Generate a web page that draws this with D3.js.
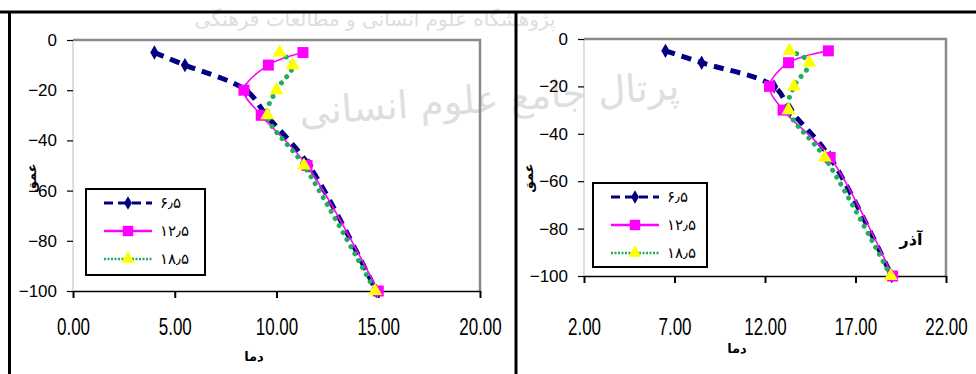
<!DOCTYPE html>
<html>
<head>
<meta charset="utf-8">
<script src="https://cdn.jsdelivr.net/npm/d3@7"></script>
<style>
body { margin: 0; background: #fff; }
</style>
</head>
<body>
<div id="playground"></div>
<script>
// Data (soil temperature profiles, depth in cm)
var depths = [-5, -10, -20, -30, -50, -100]
var seriesNames = ['۶٫۵', '۱۲٫۵', '۱۸٫۵']
var yTicks = [0, -20, -40, -60, -80, -100]
var xLabel = 'دما'
var yLabel = 'عمق'

// Left panel
var leftXTicks = [0, 5, 10, 15, 20]
var left65 = [4.0, 5.5, 8.5, 9.5, 11.6, 14.9]
var left125 = [11.3, 9.6, 8.4, 9.25, 11.5, 15.0]
var left185 = [10.15, 10.8, 10.0, 9.55, 11.35, 14.85]

// Right panel
var rightXTicks = [2, 7, 12, 17, 22]
var right65 = [6.5, 8.5, 12.5, 13.4, 15.6, 19.0]
var right125 = [15.5, 13.3, 12.25, 13.0, 15.6, 19.05]
var right185 = [13.35, 14.45, 13.6, 13.3, 15.3, 18.95]
var rightMonth = 'آذر'

var settings = {}

// General
settings.width = 976
settings.height = 374
settings.font_family = 'Liberation Sans, Arial, sans-serif'
settings.tick_font_size = 17
settings.legend_font_size = 15

// Series styles
settings.series = [
	{color: '#000080', width: 5, dash: '10 7', cap: 'butt', symbol: d3.symbolDiamond, size: 60, fill: '#000080',
		legendWidth: 3, legendDash: '9 5'}
,	{color: '#FF00FF', width: 1.6, dash: null, cap: 'butt', symbol: d3.symbolSquare, size: 121, fill: '#FF00FF',
		legendWidth: 2.5, legendDash: null}
,	{color: '#1FAE5A', width: 5, dash: '0.01 8', cap: 'round', symbol: d3.symbolTriangle, size: 85, fill: '#FFFF00',
		legendWidth: 2.5, legendDash: '2 1.5'}
]

var panels = [
	{
		xTicks: leftXTicks
	, values: [left65, left125, left185]
	, plot: {x0: 73, x1: 480, y0: 40, y1: 291}
	, legend: {x: 86, y: 189, w: 119, h: 86}
	, yLabelPos: [31, 178]
	, xLabelPos: [254, 361]
	, month: null
	}
,	{
		xTicks: rightXTicks
	, values: [right65, right125, right185]
	, plot: {x0: 584, x1: 946, y0: 39, y1: 276}
	, legend: {x: 593, y: 183, w: 114, h: 84}
	, yLabelPos: [528, 178]
	, xLabelPos: [737, 353]
	, month: {text: rightMonth, x: 911, y: 245}
	}
]

var svg = d3.select('#playground').append('svg')
	.attr('width', settings.width)
	.attr('height', settings.height)
	.style('display', 'block')
	.attr('font-family', settings.font_family)

// Watermark (background)
var wm = svg.append('g').attr('fill', '#dedede').attr('text-anchor', 'middle')
	.attr('font-family', 'DejaVu Sans, Noto Sans, sans-serif')
wm.append('text').attr('x', 375).attr('y', 26).attr('font-size', 20)
	.text('پژوهشگاه علوم انسانی و مطالعات فرهنگی')
wm.append('text').attr('x', 490).attr('y', 112).attr('font-size', 38)
	.attr('transform', 'rotate(-4 490 112)')
	.text('پرتال جامع علوم انسانی')

// Frame
var frame = svg.append('g').attr('stroke', '#000').attr('stroke-width', 3)
frame.append('line').attr('x1', 0).attr('x2', settings.width).attr('y1', 12).attr('y2', 12)
frame.append('line').attr('x1', 9.5).attr('x2', 9.5).attr('y1', 12).attr('y2', settings.height)
frame.append('line').attr('x1', 516).attr('x2', 516).attr('y1', 12).attr('y2', settings.height)

panels.forEach(drawPanel)

// ---
// Functions

function drawPanel(p) {
	var x = d3.scaleLinear()
		.domain([p.xTicks[0], p.xTicks[p.xTicks.length - 1]])
		.range([p.plot.x0, p.plot.x1])
	var y = d3.scaleLinear()
		.domain([0, -100])
		.range([p.plot.y0, p.plot.y1])

	var g = svg.append('g')

	// Plot frame: light left edge, dark top and right edges
	g.append('line')
		.attr('x1', p.plot.x0).attr('x2', p.plot.x0)
		.attr('y1', p.plot.y0).attr('y2', p.plot.y1)
		.attr('stroke', '#bdbdbd').attr('stroke-width', 1)
	g.append('path')
		.attr('d', 'M' + p.plot.x0 + ',' + p.plot.y0 + 'H' + p.plot.x1 + 'V' + p.plot.y1)
		.attr('fill', 'none').attr('stroke', '#8a8a8a').attr('stroke-width', 2.5)

	// X axis
	var xAxis = g.append('g')
		.attr('transform', 'translate(0,' + p.plot.y1 + ')')
		.call(d3.axisBottom(x).tickValues(p.xTicks).tickSize(7).tickSizeOuter(0).tickFormat(d3.format('.2f')))
	xAxis.select('.domain').attr('stroke', '#000').attr('stroke-width', 1.5)
	xAxis.selectAll('.tick line').attr('stroke', '#000').attr('stroke-width', 2)
	xAxis.selectAll('.tick text')
		.attr('y', 0).attr('dy', null)
		.attr('font-size', settings.tick_font_size)
		.attr('font-family', settings.font_family)
		.attr('fill', '#000')
		.attr('transform', 'translate(0,' + (335 - p.plot.y1) + ') scale(1,1.45)')

	// Y axis (ticks only, line drawn light above)
	var yAxis = g.append('g')
		.attr('transform', 'translate(' + p.plot.x0 + ',0)')
		.call(d3.axisLeft(y).tickValues(yTicks).tickSize(6).tickPadding(10).tickFormat(d3.format('d')))
	yAxis.select('.domain').remove()
	yAxis.selectAll('.tick line').attr('stroke', '#000').attr('stroke-width', 1.2)
	yAxis.selectAll('.tick text')
		.attr('font-size', settings.tick_font_size)
		.attr('font-family', settings.font_family)
		.attr('fill', '#000')

	// Axis titles
	g.append('text')
		.attr('x', p.xLabelPos[0]).attr('y', p.xLabelPos[1])
		.attr('text-anchor', 'middle')
		.attr('font-size', 13).attr('font-weight', 'bold')
		.attr('font-family', 'DejaVu Sans, sans-serif')
		.text(xLabel)
	g.append('text')
		.attr('transform', 'translate(' + p.yLabelPos[0] + ',' + p.yLabelPos[1] + ') rotate(-90)')
		.attr('text-anchor', 'middle').attr('dy', '0.35em')
		.attr('font-size', 13).attr('font-weight', 'bold')
		.attr('font-family', 'DejaVu Sans, sans-serif')
		.text(yLabel)

	if (p.month) {
		g.append('text')
			.attr('x', p.month.x).attr('y', p.month.y)
			.attr('text-anchor', 'middle')
			.attr('font-size', 16).attr('font-weight', 'bold')
			.attr('font-family', 'DejaVu Sans, sans-serif')
			.text(p.month.text)
	}

	// Series
	var line = d3.line()
		.x(function(d){ return x(d.t) })
		.y(function(d){ return y(d.depth) })
		.curve(d3.curveCatmullRom.alpha(0.5))

	p.values.forEach(function(vals, i){
		var s = settings.series[i]
		var pts = vals.map(function(t, k){ return {t: t, depth: depths[k]} })
		g.append('path')
			.attr('d', line(pts))
			.attr('fill', 'none')
			.attr('stroke', s.color)
			.attr('stroke-width', s.width)
			.attr('stroke-dasharray', s.dash)
			.attr('stroke-linecap', s.cap)
		g.selectAll(null)
			.data(pts)
			.enter().append('path')
			.attr('transform', function(d){ return 'translate(' + x(d.t) + ',' + y(d.depth) + ')' })
			.attr('d', d3.symbol().type(s.symbol).size(s.size))
			.attr('fill', s.fill)
	})

	// Legend
	var lg = g.append('g').attr('transform', 'translate(' + p.legend.x + ',' + p.legend.y + ')')
	lg.append('rect')
		.attr('width', p.legend.w).attr('height', p.legend.h)
		.attr('fill', '#fff').attr('stroke', '#000').attr('stroke-width', 2)
	seriesNames.forEach(function(name, i){
		var s = settings.series[i]
		var ly = 14 + i * 28
		lg.append('line')
			.attr('x1', 18).attr('x2', 66).attr('y1', ly).attr('y2', ly)
			.attr('stroke', s.color)
			.attr('stroke-width', s.legendWidth)
			.attr('stroke-dasharray', s.legendDash)
		lg.append('path')
			.attr('transform', 'translate(42,' + ly + ')')
			.attr('d', d3.symbol().type(s.symbol).size(s.size * 0.9))
			.attr('fill', s.fill)
		lg.append('text')
			.attr('x', 74).attr('y', ly).attr('dy', '0.35em')
			.attr('font-size', settings.legend_font_size)
			.attr('font-family', 'DejaVu Sans, sans-serif')
			.text(name)
	})
}
</script>
</body>
</html>
